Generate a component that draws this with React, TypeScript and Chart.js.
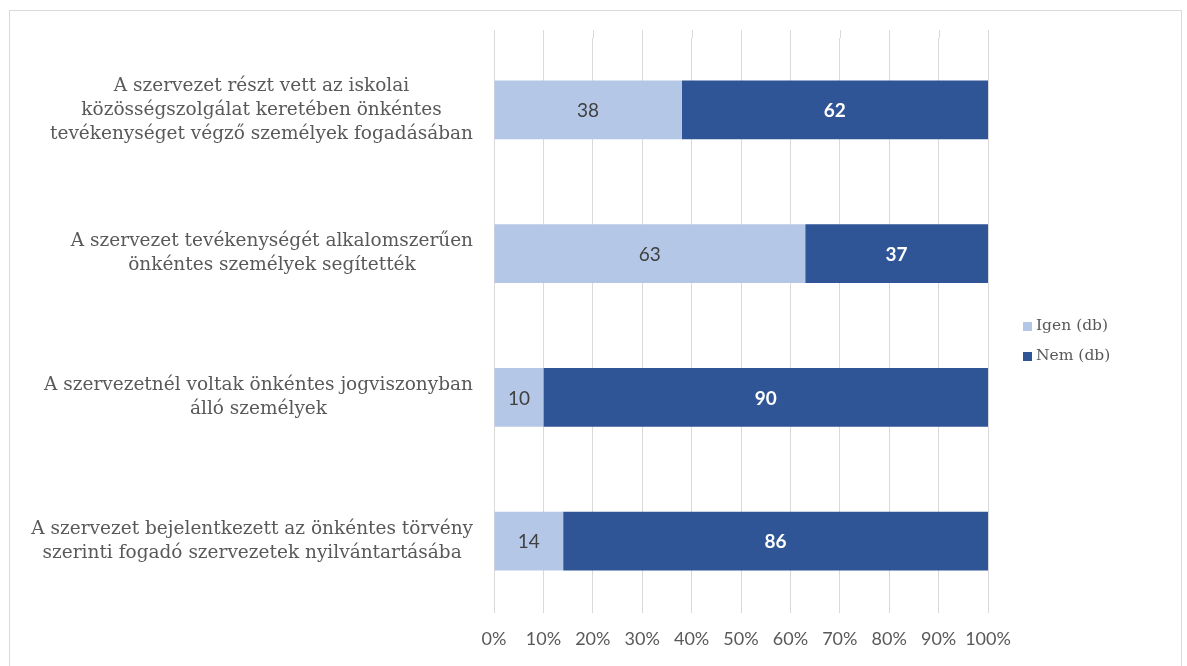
import React, { useEffect, useRef } from "react";
import { Chart, registerables } from "chart.js";

Chart.register(...registerables);

const categories: string[][] = [
  ["A szervezet részt vett az iskolai", "közösségszolgálat keretében önkéntes", "tevékenységet végző személyek fogadásában"],
  ["A szervezet tevékenységét alkalomszerűen", "önkéntes személyek segítették"],
  ["A szervezetnél voltak önkéntes jogviszonyban", "álló személyek"],
  ["A szervezet bejelentkezett az önkéntes törvény", "szerinti fogadó szervezetek nyilvántartásába"],
];
const igenValues = [38, 63, 10, 14];
const nemValues = [62, 37, 90, 86];
const seriesNames = ["Igen (db)", "Nem (db)"];
const xTicks = [0, 10, 20, 30, 40, 50, 60, 70, 80, 90, 100];

const LIGHT = "#B4C7E7";
const DARK = "#2F5597";
const TEXT = "#595959";
const SERIF = "'DejaVu Serif', serif";
const SANS = "Lato, 'Open Sans', sans-serif";

const framePlugin = {
  id: "frame",
  beforeDraw(chart: any) {
    const ctx = chart.ctx;
    ctx.save();
    ctx.fillStyle = "#ffffff";
    ctx.fillRect(0, 0, chart.width, chart.height);
    ctx.strokeStyle = "#d9d9d9";
    ctx.lineWidth = 1;
    ctx.strokeRect(9.5, 10.5, 1172, 660);
    // extend vertical gridlines slightly above the plot area, as in the reference
    const xs = chart.scales.x;
    const top = chart.chartArea.top;
    ctx.beginPath();
    xTicks.forEach((v) => {
      const px = Math.round(xs.getPixelForValue(v)) + 0.5;
      ctx.moveTo(px, 30);
      ctx.lineTo(px, top);
    });
    ctx.stroke();
    ctx.restore();
  },
};

const yLabelPlugin = {
  id: "yLabels",
  afterDraw(chart: any) {
    const ctx = chart.ctx;
    const scale = chart.scales.y;
    ctx.save();
    ctx.font = `18.5px ${SERIF}`;
    ctx.fillStyle = TEXT;
    ctx.textAlign = "center";
    ctx.textBaseline = "middle";
    const right = 473;
    const lh = 24;
    categories.forEach((lines, i) => {
      const y = scale.getPixelForTick(i);
      const maxW = Math.max(...lines.map((l) => ctx.measureText(l).width));
      const cx = right - maxW / 2;
      const y0 = y - ((lines.length - 1) * lh) / 2;
      lines.forEach((l, j) => ctx.fillText(l, cx, y0 + j * lh));
    });
    ctx.restore();
  },
};

const dataLabelPlugin = {
  id: "dataLabels",
  afterDatasetsDraw(chart: any) {
    const ctx = chart.ctx;
    ctx.save();
    ctx.textAlign = "center";
    ctx.textBaseline = "middle";
    chart.data.datasets.forEach((ds: any, di: number) => {
      const meta = chart.getDatasetMeta(di);
      meta.data.forEach((bar: any, i: number) => {
        const cx = (bar.x + bar.base) / 2;
        ctx.font = di === 0 ? `19px ${SANS}` : `bold 19px ${SANS}`;
        ctx.fillStyle = di === 0 ? "#404040" : "#ffffff";
        ctx.fillText(String(ds.data[i]), cx, bar.y + 1);
      });
    });
    ctx.restore();
  },
};

const legendPlugin = {
  id: "customLegend",
  afterDraw(chart: any) {
    const ctx = chart.ctx;
    ctx.save();
    ctx.font = `15.5px ${SERIF}`;
    ctx.textBaseline = "middle";
    ctx.textAlign = "left";
    const ys = [326, 356];
    chart.data.datasets.forEach((ds: any, i: number) => {
      ctx.fillStyle = ds.backgroundColor;
      ctx.fillRect(1023, ys[i] - 4, 9, 9);
      ctx.fillStyle = TEXT;
      ctx.fillText(ds.label, 1036, ys[i]);
    });
    ctx.restore();
  },
};

export default function App() {
  const ref = useRef<HTMLCanvasElement>(null);
  useEffect(() => {
    if (!ref.current) return;
    const chart = new Chart(ref.current, {
      type: "bar",
      data: {
        labels: categories.map((c) => c.join(" ")),
        datasets: [
          { label: seriesNames[0], data: igenValues, backgroundColor: LIGHT, barPercentage: 0.41, categoryPercentage: 1 },
          { label: seriesNames[1], data: nemValues, backgroundColor: DARK, barPercentage: 0.41, categoryPercentage: 1 },
        ],
      },
      options: {
        indexAxis: "y",
        animation: false,
        responsive: false,
        maintainAspectRatio: false,
        layout: { padding: { top: 38, right: 199, left: 0, bottom: 0 } },
        plugins: { legend: { display: false }, tooltip: { enabled: false } },
        scales: {
          x: {
            stacked: true,
            min: 0,
            max: 100,
            afterBuildTicks: (scale: any) => {
              scale.ticks = xTicks.map((v) => ({ value: v }));
            },
            afterFit: (scale: any) => {
              scale.height = 53;
            },
            grid: { color: "#d9d9d9", drawTicks: false },
            border: { display: false },
            ticks: {
              padding: 15,
              color: TEXT,
              font: { family: SANS, size: 18 },
              maxRotation: 0,
              autoSkip: false,
              callback: (v: any) => `${v}%`,
            },
          },
          y: {
            stacked: true,
            afterFit: (scale: any) => {
              scale.width = 494;
            },
            grid: { display: false },
            border: { display: false },
            ticks: { display: false },
          },
        },
      },
      plugins: [framePlugin, yLabelPlugin, dataLabelPlugin, legendPlugin],
    } as any);
    return () => chart.destroy();
  }, []);
  return (
    <div style={{ position: "fixed", left: 0, top: 0, width: 1187, height: 666 }}>
      <canvas ref={ref} width={1187} height={666} style={{ display: "block" }} />
    </div>
  );
}
